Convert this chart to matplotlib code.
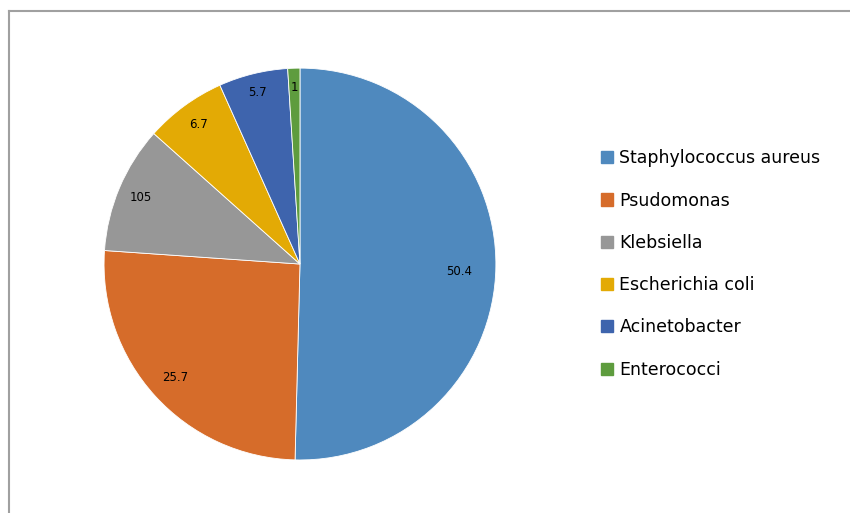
import matplotlib.pyplot as plt
from matplotlib.lines import Line2D
import numpy as np

labels = ['Staphylococcus aureus', 'Psudomonas', 'Klebsiella', 'Escherichia coli', 'Acinetobacter', 'Enterococci']
values = [50.4, 25.7, 10.5, 6.7, 5.7, 1]
value_text = ['50.4', '25.7', '105', '6.7', '5.7', '1']
colors = ['#4F89BE', '#D66C2A', '#979797', '#E3AA05', '#3E64AD', '#5E9C3E']

fig = plt.figure(figsize=(8.5, 5.13), dpi=100)

# chart frame (gray border, runs off right/bottom)
fig.add_artist(Line2D([9/850, 1.0], [1-11/513, 1-11/513], color='#a0a0a0', lw=1.5))
fig.add_artist(Line2D([9/850, 9/850], [1-11/513, 0.0], color='#a0a0a0', lw=1.5))

ax = fig.add_axes([0.1224, 0.1033, 0.461, 0.764])
wedges, _ = ax.pie(values, colors=colors, startangle=90, counterclock=False,
                   wedgeprops=dict(edgecolor='white', linewidth=0.6))
ax.set_xlim(-1, 1)
ax.set_ylim(-1, 1)
ax.set_aspect('equal')

for w, t, d in zip(wedges, value_text, [0.81, 0.86, 0.88, 0.88, 0.9, 0.9]):
    ang = np.deg2rad((w.theta1 + w.theta2) / 2)
    ax.text(d * np.cos(ang), d * np.sin(ang) - 0.03 * (t == '50.4'), t,
            ha='center', va='center', fontsize=8.5, color='black')

handles = [plt.Rectangle((0, 0), 1, 1, color=c) for c in colors]
fig.legend(handles, labels, loc='upper left', bbox_to_anchor=(0.697, 0.726),
           frameon=False, fontsize=12.5, handlelength=0.7, handleheight=0.7,
           handletextpad=0.35, labelspacing=1.4, borderpad=0)

plt.savefig('out.png', dpi=100)
